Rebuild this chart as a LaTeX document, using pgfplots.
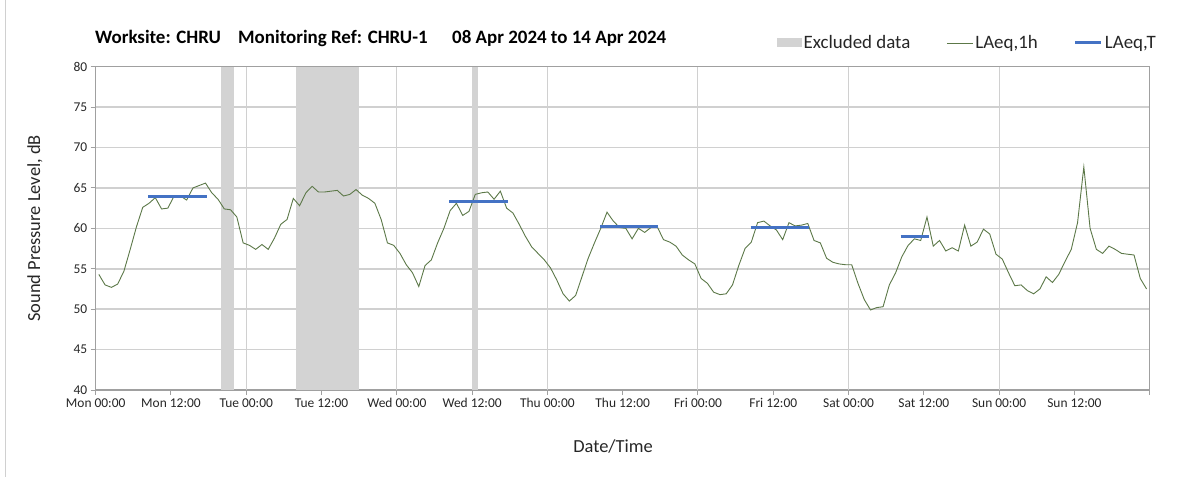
\documentclass[border=0pt]{standalone}
\usepackage{fontspec}
\setmainfont{Carlito}
\usepackage{pgfplots}
\pgfplotsset{compat=1.18}
\definecolor{excl}{RGB}{211,211,211}
\definecolor{laeqh}{RGB}{92,120,72}
\definecolor{laeqt}{RGB}{68,114,196}
\definecolor{gridc}{RGB}{208,208,208}
\definecolor{framec}{RGB}{160,160,160}
\definecolor{txt}{RGB}{38,38,38}

\begin{document}
\begin{tikzpicture}
\useasboundingbox (-95.7bp,-87bp) rectangle (1107.3bp,390bp);
\draw[gridc, line width=0.8bp] (-90.5bp,-87bp) -- (-90.5bp,390bp);
\begin{axis}[
    at={(0,0)}, anchor=south west,
    scale only axis, width=1054bp, height=323.3bp,
    xmin=0, xmax=168, ymin=40, ymax=80,
    xtick={0,12,...,168},
    xticklabels={Mon 00:00, Mon 12:00, Tue 00:00, Tue 12:00, Wed 00:00, Wed 12:00,
        Thu 00:00, Thu 12:00, Fri 00:00, Fri 12:00, Sat 00:00, Sat 12:00,
        Sun 00:00, Sun 12:00, {}},
    extra x ticks={24,48,...,144},
    extra x tick labels={},
    extra x tick style={grid=major, major grid style={gridc, line width=1bp}},
    ytick={40,45,...,80},
    ymajorgrids, major grid style={gridc, line width=1.5bp},
    tick align=outside, major tick length=5bp,
    xtick pos=bottom, ytick pos=left,
    tick style={framec, line width=1bp},
    axis line style={framec, line width=1.2bp},
    /pgf/number format/assume math mode=true,
    x tick label style={font=\fontsize{13.5}{16}\selectfont, text=txt},
    y tick label style={font=\fontsize{13.5}{16}\selectfont, text=txt},
    xlabel={Date/Time},
    ylabel={Sound Pressure Level, dB},
    xlabel style={at={(axis description cs:0.4908,-0.176)}, anchor=center,
        font=\fontsize{18.5}{21}\selectfont, text=txt},
    ylabel style={at={(axis description cs:-0.0576,0.5)}, anchor=center,
        font=\fontsize{18.5}{21}\selectfont, text=txt},
    legend image code/.code={\draw[#1] (0bp,0bp) -- (26bp,0bp);},
    legend style={at={(axis description cs:1.0079,1.0733)}, anchor=east,
        draw=none, fill=none, legend columns=-1, inner sep=0pt,
        font=\fontsize{19}{22}\selectfont, text=txt,
        /tikz/every even column/.append style={column sep=34bp}},
    legend cell align=left,
    unbounded coords=jump,
]
\addplot[fill=excl, draw=none,
    legend image code/.code={\fill[excl] (0bp,-4.5bp) rectangle (25bp,4.5bp);}]
    coordinates {(20,40) (20,80) (22,80) (22,40)} -- cycle;
\addlegendentry{Excluded data}
\addplot[fill=excl, draw=none, forget plot]
    coordinates {(32,40) (32,80) (42,80) (42,40)} -- cycle;
\addplot[fill=excl, draw=none, forget plot]
    coordinates {(60,40) (60,80) (61,80) (61,40)} -- cycle;

\addplot[laeqh, line width=0.9bp] table {
x y
0.5 54.3
1.5 53.0
2.5 52.7
3.5 53.1
4.5 54.7
5.5 57.4
6.5 60.2
7.5 62.6
8.5 63.1
9.5 63.8
10.5 62.4
11.5 62.5
12.5 64.0
13.5 64.0
14.5 63.5
15.5 65.0
16.5 65.3
17.5 65.6
18.5 64.4
19.5 63.6
20.5 62.4
21.5 62.3
22.5 61.4
23.5 58.2
24.5 57.9
25.5 57.4
26.5 58.0
27.5 57.4
28.5 58.8
29.5 60.5
30.5 61.1
31.5 63.7
32.5 62.8
33.5 64.4
34.5 65.2
35.5 64.5
36.5 64.5
37.5 64.6
38.5 64.7
39.5 64.0
40.5 64.2
41.5 64.8
42.5 64.1
43.5 63.7
44.5 63.1
45.5 61.1
46.5 58.2
47.5 57.9
48.5 56.9
49.5 55.5
50.5 54.5
51.5 52.8
52.5 55.4
53.5 56.1
54.5 58.2
55.5 60.0
56.5 62.2
57.5 63.1
58.5 61.6
59.5 62.1
60.5 64.2
61.5 64.4
62.5 64.5
63.5 63.6
64.5 64.6
65.5 62.5
66.5 61.9
67.5 60.5
68.5 59.0
69.5 57.7
70.5 56.9
71.5 56.1
72.5 55.1
73.5 53.6
74.5 51.9
75.5 51.0
76.5 51.7
77.5 54.0
78.5 56.3
79.5 58.2
80.5 60.0
81.5 62.0
82.5 60.9
83.5 60.1
84.5 60.0
85.5 58.7
86.5 60.0
87.5 59.5
88.5 60.1
89.5 60.2
90.5 58.6
91.5 58.3
92.5 57.8
93.5 56.7
94.5 56.1
95.5 55.6
96.5 53.8
97.5 53.2
98.5 52.1
99.5 51.8
100.5 51.9
101.5 53.0
102.5 55.4
103.5 57.5
104.5 58.3
105.5 60.7
106.5 60.9
107.5 60.3
108.5 59.8
109.5 58.6
110.5 60.7
111.5 60.3
112.5 60.4
113.5 60.6
114.5 58.5
115.5 58.2
116.5 56.3
117.5 55.8
118.5 55.6
119.5 55.5
120.5 55.5
121.5 53.2
122.5 51.2
123.5 49.9
124.5 50.2
125.5 50.3
126.5 53.0
127.5 54.5
128.5 56.5
129.5 57.9
130.5 58.7
131.5 58.5
132.5 61.4
133.5 57.8
134.5 58.5
135.5 57.2
136.5 57.6
137.5 57.2
138.5 60.4
139.5 57.8
140.5 58.3
141.5 59.9
142.5 59.3
143.5 56.8
144.5 56.2
145.5 54.5
146.5 52.9
147.5 53.0
148.5 52.3
149.5 51.9
150.5 52.5
151.5 54.0
152.5 53.3
153.5 54.3
154.5 55.9
155.5 57.4
156.5 60.7
157.5 67.6
158.5 60.0
159.5 57.4
160.5 56.9
161.5 57.8
162.5 57.4
163.5 56.9
164.5 56.8
165.5 56.7
166.5 53.8
167.5 52.5
};
\addlegendentry{LAeq,1h}

\addplot[laeqt, line width=3bp] coordinates {
    (8.4,64.0) (17.7,64.0) (30,nan)
    (56.35,63.3) (65.7,63.3) (70,nan)
    (80.4,60.2) (89.7,60.2) (95,nan)
    (104.4,60.1) (113.7,60.1) (120,nan)
    (128.3,59.0) (132.8,59.0)
};
\addlegendentry{LAeq,T}
\end{axis}
\node[anchor=base west, inner sep=0pt, font=\bfseries\fontsize{19}{22}\selectfont]
    at (-0.7bp,346bp) {Worksite: CHRU};
\node[anchor=base west, inner sep=0pt, font=\bfseries\fontsize{19}{22}\selectfont]
    at (142.3bp,346bp) {Monitoring Ref: CHRU-1};
\node[anchor=base west, inner sep=0pt, font=\bfseries\fontsize{19}{22}\selectfont]
    at (356.3bp,346bp) {08 Apr 2024 to 14 Apr 2024};
\end{tikzpicture}
\end{document}
